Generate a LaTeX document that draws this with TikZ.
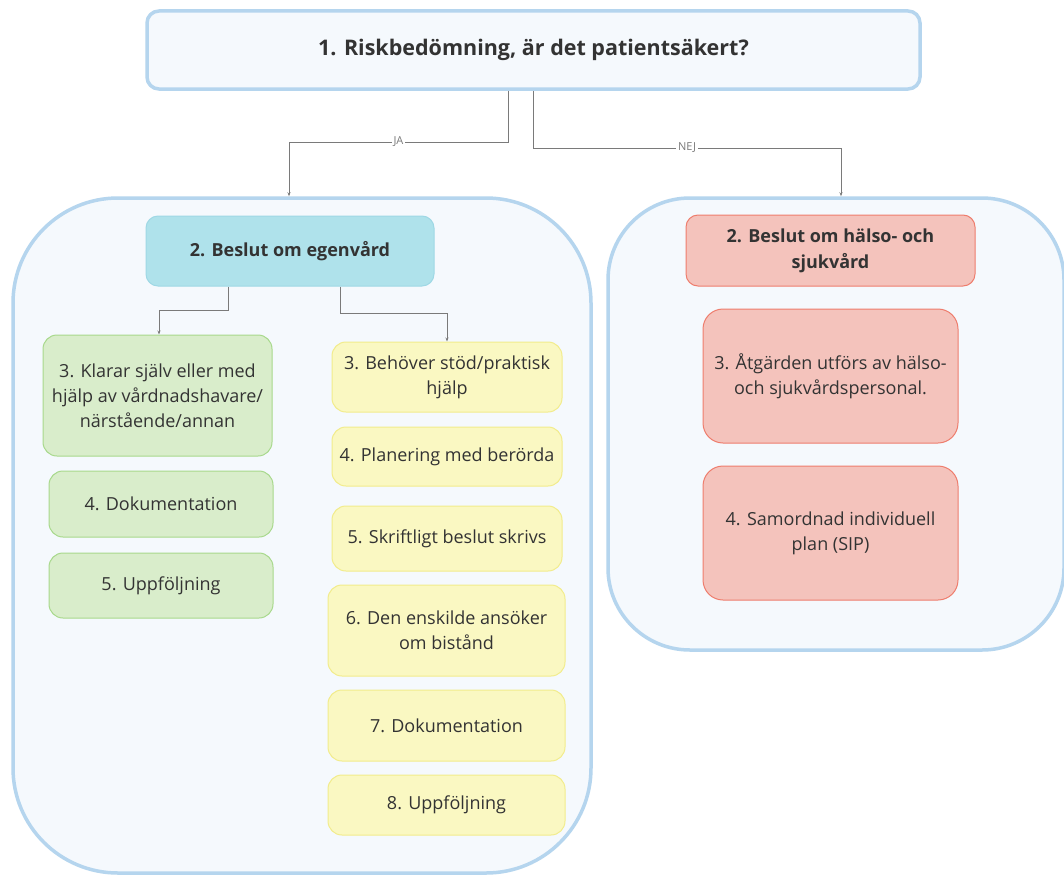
\documentclass[tikz,border=0pt]{standalone}
\usepackage{fontspec}
\setmainfont{Open Sans}
\usetikzlibrary{arrows.meta}
\definecolor{contfill}{HTML}{F5F9FD}
\definecolor{contline}{HTML}{B5D5EE}
\definecolor{cyanfill}{HTML}{AFE2EB}
\definecolor{cyanline}{HTML}{9FD8E5}
\definecolor{greenfill}{HTML}{D9EDCB}
\definecolor{greenline}{HTML}{A8D98C}
\definecolor{yelfill}{HTML}{FAF8C2}
\definecolor{yelline}{HTML}{F2EC8C}
\definecolor{redfill}{HTML}{F4C3BC}
\definecolor{redline}{HTML}{EE7D6D}
\definecolor{txt}{HTML}{333333}
\definecolor{connc}{HTML}{7A7A7A}
\tikzset{
  box/.style={draw, rectangle, align=center, inner sep=0pt, text=txt, font=\fontsize{18}{25}\selectfont},
  cont/.style={box, draw=contline, fill=contfill, line width=3.5pt},
  topbox/.style={box, draw=contline, fill=contfill, line width=3.5pt, rounded corners=12pt, font=\bfseries\fontsize{21.5}{28}\selectfont},
  cyanbox/.style={box, draw=cyanline, fill=cyanfill, line width=1pt, rounded corners=12pt, font=\bfseries\fontsize{18}{26}\selectfont},
  redhead/.style={box, draw=redline, fill=redfill, line width=1pt, rounded corners=12pt, font=\bfseries\fontsize{18}{26}\selectfont},
  greenbox/.style={box, draw=greenline, fill=greenfill, line width=1pt, rounded corners=14pt},
  yelbox/.style={box, draw=yelline, fill=yelfill, line width=1pt, rounded corners=14pt},
  redbox/.style={box, draw=redline, fill=redfill, line width=1pt, rounded corners=20pt},
  conn/.style={draw=connc, line width=0.8pt, -{Stealth[length=4pt,width=3pt]}},
  lbl/.style={fill=white, inner sep=2pt, text=connc, font=\fontsize{11}{13}\selectfont},
}
\newcommand{\bx}[7]{% style, name, x1, y1, x2, y2, text
  \node[#1, minimum width={#5-#3}, minimum height={#6-#4}] (#2) at ({(#3+#5)/2},{(#4+#6)/2}) {#7};}
\begin{document}
\begin{tikzpicture}[x=1pt,y=-1pt]
\useasboundingbox (0,0) rectangle (1064,875);
\fill[white] (0,0) rectangle (1064,875);
% containers
\node[cont, rounded corners=105pt, minimum width=578, minimum height=675] (lc) at (302,535.5) {};
\node[cont, rounded corners=82pt, minimum width=456, minimum height=452] (rc) at (836,424) {};
% top
\bx{topbox}{top}{147}{11}{920}{89}{1. Riskbedömning, är det patientsäkert?}
% connectors top
\coordinate (ja1) at (508,142);
\coordinate (ja2) at (289,142);
\coordinate (nej1) at (533,148);
\coordinate (nej2) at (841,148);
\draw[conn] (top.south -| ja1) -- (ja1) -- node[lbl]{JA} (ja2) -- (ja2 |- lc.north);
\draw[conn] (top.south -| nej1) -- (nej1) -- node[lbl]{NEJ} (nej2) -- (nej2 |- rc.north);
% left content
\bx{cyanbox}{ego}{146}{216}{434}{286}{2. Beslut om egenvård}
\bx{greenbox}{g3}{43}{335}{272}{456}{3. Klarar själv eller med\\hjälp av vårdnadshavare/\\närstående/annan}
\bx{greenbox}{g4}{49}{471}{273}{537}{4. Dokumentation}
\bx{greenbox}{g5}{49}{553}{273}{618}{5. Uppföljning}
\bx{yelbox}{y3}{332}{342}{562}{412}{3. Behöver stöd/praktisk\\hjälp}
\bx{yelbox}{y4}{332}{427}{562}{486}{4. Planering med berörda}
\bx{yelbox}{y5}{332}{506}{562}{571}{5. Skriftligt beslut skrivs}
\bx{yelbox}{y6}{328}{585}{565}{676}{6. Den enskilde ansöker\\om bistånd}
\bx{yelbox}{y7}{328}{690}{565}{761}{7. Dokumentation}
\bx{yelbox}{y8}{328}{775}{565}{835}{8. Uppföljning}
\coordinate (e1) at (228,310);
\coordinate (e2) at (159,310);
\coordinate (f1) at (340,313);
\coordinate (f2) at (447,313);
\draw[conn] (ego.south -| e1) -- (e1) -- (e2) -- (e2 |- g3.north);
\draw[conn] (ego.south -| f1) -- (f1) -- (f2) -- (f2 |- y3.north);
% right content
\bx{redhead}{hs}{686}{215}{975}{286}{2. Beslut om hälso- och\\sjukvård}
\bx{redbox}{r3}{703}{309}{958}{443}{3. Åtgärden utförs av hälso-\\och sjukvårdspersonal.}
\bx{redbox}{r4}{703}{466}{958}{600}{4. Samordnad individuell\\plan (SIP)}
\end{tikzpicture}
\end{document}
